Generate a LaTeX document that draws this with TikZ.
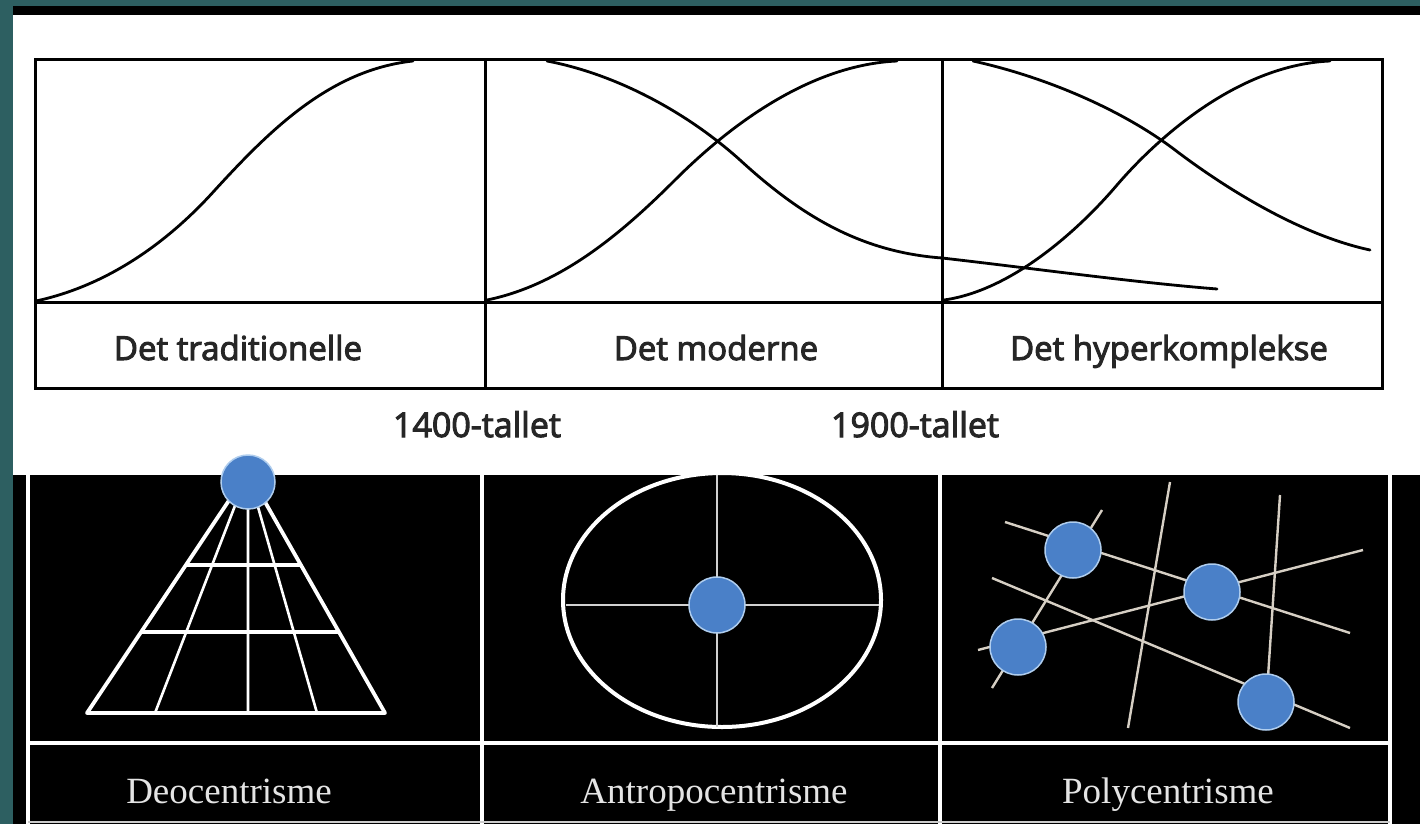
\documentclass[tikz,border=0pt]{standalone}
\usepackage{fontspec}
\setmainfont{Liberation Serif}
\newfontfamily\labsans[FakeBold=3]{Open Sans}
\usetikzlibrary{calc}
\definecolor{frame}{RGB}{45,95,97}
\definecolor{dotblue}{RGB}{74,128,200}
\definecolor{dotrim}{RGB}{175,205,238}
\definecolor{thinline}{RGB}{214,207,196}
\definecolor{lab}{RGB}{228,228,228}
\begin{document}
\begin{tikzpicture}[x=1pt,y=-1pt,
  boxline/.style={line width=3pt,black},
  curve/.style={line width=2.8pt,black,line cap=round},
  toplab/.style={font=\labsans\fontsize{33}{38}\selectfont,text=black!85,anchor=base,inner sep=0pt},
  yearlab/.style={font=\labsans\fontsize{34}{38}\selectfont,text=black!85,anchor=base,inner sep=0pt},
  botlab/.style={font=\fontsize{37}{42}\selectfont,text=lab,anchor=base,inner sep=0pt},
  wline/.style={line width=4pt,white},
  gline/.style={line width=2.4pt,thinline},
  dot/.style={circle,fill=dotblue,draw=dotrim,line width=1.5pt,minimum size=56pt,inner sep=0pt}]
\useasboundingbox (0,0) rectangle (1420,824);
% background
\fill[frame] (0,0) rectangle (1420,824);
\fill[white] (13,6) rectangle (1420,824);
\fill[black] (13,6) rectangle (1420,15);
\fill[black] (13,475) rectangle (1420,824);
% ---------- top chart ----------
\draw[boxline] (35,60) rectangle (1382,388);
\draw[boxline] (35,302) -- (1382,302);
\draw[boxline] (485,60) -- (485,388);
\draw[boxline] (942,60) -- (942,388);
% panel 1 curve
\draw[curve] (36,301) .. controls (110,285) and (170,240) .. (215,190)
                      .. controls (270,130) and (330,70) .. (413,61);
% panel 2 rising
\draw[curve] (487,300) .. controls (560,285) and (620,235) .. (675,180)
                       .. controls (730,125) and (810,65) .. (897,61);
% panel 2 falling, continuing into panel 3
\draw[curve] (547,61) .. controls (620,75) and (690,115) .. (740,160)
                      .. controls (800,215) and (860,252) .. (942,258)
                      .. controls (1030,268) and (1130,282) .. (1217,289);
% panel 3 rising
\draw[curve] (944,300) .. controls (1015,290) and (1083,225) .. (1117,185)
                       .. controls (1160,135) and (1240,65) .. (1330,61);
% panel 3 falling
\draw[curve] (973,61) .. controls (1050,78) and (1125,112) .. (1175,150)
                      .. controls (1225,188) and (1300,235) .. (1370,250);
% labels
\node[toplab] (t1) at (238,360) {Det traditionelle};
\node[toplab] (t2) at (716,360) {Det moderne};
\node[toplab] (t3) at (1169,360) {Det hyperkomplekse};
\node[yearlab] (y1) at (477,437) {1400-tallet};
\node[yearlab] (y2) at (915,437) {1900-tallet};
% ---------- bottom table ----------
\draw[wline] (28,475) -- (28,824);
\draw[wline] (482,475) -- (482,824);
\draw[wline] (940,475) -- (940,824);
\draw[wline] (1390,475) -- (1390,824);
\draw[wline] (28,743) -- (1390,743);
\draw[line width=2pt,white!80!black] (28,822) -- (1390,822);
% pyramid
\coordinate (P) at (248,472);
\coordinate (B1) at (87,713);
\coordinate (B2) at (155,713);
\coordinate (B3) at (248,713);
\coordinate (B4) at (317,713);
\coordinate (B5) at (385,713);
\draw[white,line width=2.6pt] (P) -- (B2) (P) -- (B3) (P) -- (B4);
\draw[white,line width=3.8pt,line join=round] (P) -- (B1) -- (B5) -- cycle;
\draw[white,line width=3.6pt] ($(P)!0.386!(B1)$) -- ($(P)!0.386!(B5)$);
\draw[white,line width=3.6pt] ($(P)!0.664!(B1)$) -- ($(P)!0.664!(B5)$);
\node[dot,minimum size=54pt] (god) at (248,482) {};
% ellipse
\draw[white,line width=4pt] (722,600) ellipse [x radius=159pt, y radius=127pt];
\draw[line width=2.4pt,white!82!black] (717,475) -- (717,727);
\draw[line width=2.4pt,white!82!black] (566,605) -- (879,605);
\node[dot] (man) at (717,605) {};
% polycentrism
\draw[gline] (1005,522) -- (1350,633);
\draw[gline] (992,578) -- (1350,728);
\draw[gline] (978,650) -- (1363,550);
\draw[gline] (992,688) -- (1102,510);
\draw[gline] (1170,482) -- (1128,728);
\draw[gline] (1280,495) -- (1268,677);
\node[dot] (c1) at (1073,550) {};
\node[dot] (c2) at (1212,592) {};
\node[dot] (c3) at (1018,647) {};
\node[dot] (c4) at (1266,702) {};
% bottom labels
\node[botlab] (d1) at (229,803) {Deocentrisme};
\node[botlab] (d2) at (714,803) {Antropocentrisme};
\node[botlab] (d3) at (1168,803) {Polycentrisme};
\end{tikzpicture}
\end{document}
